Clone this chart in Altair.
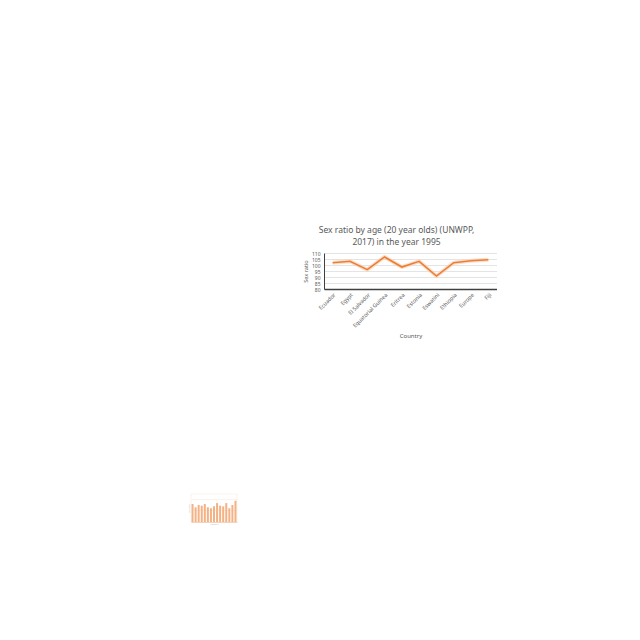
import altair as alt
import pandas as pd

countries = ["Ecuador", "Egypt", "El Salvador", "Equatorial Guinea", "Eritrea",
             "Estonia", "Eswatini", "Ethiopia", "Europe", "Fiji"]
sex_ratio = [101.9, 103.1, 96.1, 106.7, 98.3, 103.1, 90.8, 101.9, 103.6, 104.4]

thumb_idx = list(range(1, 16))
thumb_vals = [77, 63, 73, 70, 77, 63, 59, 67, 81, 70, 67, 81, 59, 73, 91]

FONT = "Noto Sans"
GRAY = "#595959"

df = pd.DataFrame({"Country": countries, "Sex ratio": sex_ratio})
tdf = pd.DataFrame({"i": thumb_idx, "v": thumb_vals})


def spacer(w, h):
    return alt.Chart(pd.DataFrame({"a": [0]})).mark_rule(opacity=0).encode(
        x=alt.value(0), y=alt.value(0)
    ).properties(width=w, height=h, view=alt.ViewBackground(stroke="transparent", strokeWidth=0))


base = alt.Chart(df).encode(
    x=alt.X("Country:N", sort=None,
            axis=alt.Axis(labelAngle=-45, labelFontSize=5.5, labelColor=GRAY,
                          ticks=False, domainColor="#404040", domainWidth=1.5,
                          grid=False, title="Country", titleFontSize=6,
                          titleFontWeight="normal", titleColor=GRAY,
                          labelPadding=3, titlePadding=4, labelFont=FONT,
                          titleFont=FONT)),
    y=alt.Y("Sex ratio:Q", scale=alt.Scale(domain=[80, 110], nice=False, zero=False),
            axis=alt.Axis(values=[80, 85, 90, 95, 100, 105, 110], labelFontSize=5,
                          labelColor=GRAY, ticks=False, domainColor="#404040",
                          domainWidth=1, gridColor="#D9D9D9", gridWidth=0.7,
                          title="Sex ratio", titleFontSize=5.5, titleFontWeight="normal",
                          titleColor=GRAY, labelPadding=4, titlePadding=3,
                          labelFont=FONT, titleFont=FONT)),
)
glow = base.mark_line(color="#F8CBAD", strokeWidth=4, opacity=0.6)
line = base.mark_line(color="#ED7D31", strokeWidth=1.6)

main = alt.layer(glow, line).properties(
    width=173, height=36,
    view=alt.ViewBackground(stroke="transparent", strokeWidth=0),
    title=alt.TitleParams(["Sex ratio by age (20 year olds) (UNWPP,", "2017) in the year 1995"],
                          fontSize=8.5, font=FONT, color=GRAY, fontWeight="normal",
                          anchor="middle", dx=-14, offset=2, lineHeight=12),
)

thumb = alt.Chart(tdf).mark_bar(color="#F4B183", size=2).encode(
    x=alt.X("i:O", axis=alt.Axis(labels=False, ticks=False, domainColor="#F4D3BC",
                                 title="Country", titleFontSize=2, titleColor="#CFCFCF",
                                 titlePadding=1, titleFont=FONT)),
    y=alt.Y("v:Q", scale=alt.Scale(domain=[0, 120]),
            axis=alt.Axis(labels=False, ticks=False, domain=False, gridColor="#F3E6DC",
                          gridWidth=0.5, tickCount=2, title="Sex ratio", titleFontSize=2,
                          titleColor="#CFCFCF", titlePadding=1, titleFont=FONT)),
).properties(width=46, height=28,
             view=alt.ViewBackground(stroke="#F3E6DC", strokeWidth=0.5))

chart = alt.vconcat(
    spacer(10, 226),
    alt.hconcat(spacer(303, 10), main, spacing=0),
    spacer(10, 154),
    alt.hconcat(spacer(187, 10), thumb, spacing=0),
    spacing=0,
).properties(padding=0).configure(background="white")

chart.save("out.html", embed_options={"renderer": "svg", "actions": False})
